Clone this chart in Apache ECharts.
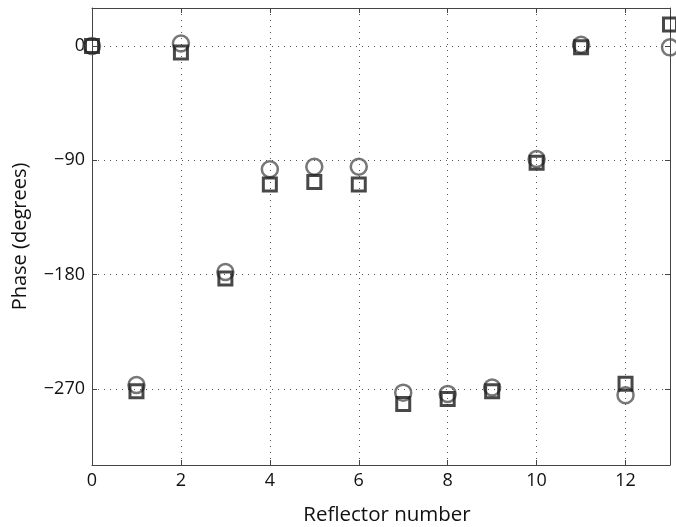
<!DOCTYPE html>
<html>
<head>
<meta charset="utf-8">
<script src="https://cdn.jsdelivr.net/npm/echarts@6/dist/echarts.min.js"></script>
<style>
html, body { margin: 0; padding: 0; background: #fff; }
#chart { width: 676px; height: 527px; }
</style>
</head>
<body>
<div id="chart"></div>
<script>
// 反射器编号
const reflectors = [0, 1, 2, 3, 4, 5, 6, 7, 8, 9, 10, 11, 12, 13]
// 圆圈 (灰)
const circlePhase = [0, -267, 2, -178, -97, -95, -95, -273, -274, -269, -89, 1, -275, -1]
// 方块 (黑)
const squarePhase = [0, -272, -5, -183, -109, -107, -109, -282, -278, -272, -92, -1, -266, 17]
// 刻度
const xTicks = [0, 2, 4, 6, 8, 10, 12]
const yTicks = [-270, -180, -90, 0]

const font = 'Open Sans'
const chart = echarts.init(document.getElementById('chart'))

const toPairs = arr => reflectors.map((x, i) => [x, arr[i]])

const gridLine = { show: true, lineStyle: { color: '#555', type: [1, 5], width: 1 } }
const borderLine = { show: true, onZero: false, lineStyle: { color: '#444', width: 1 } }
const tick = vals => ({ show: true, inside: true, length: 5, customValues: vals, lineStyle: { color: '#444' } })

chart.setOption({
    animation: false,
    grid: { left: 92, top: 8, right: 6, bottom: 62, outerBoundsMode: 'none' },
    xAxis: [{
        type: 'value', min: 0, max: 13,
        name: 'Reflector number', nameLocation: 'middle', nameGap: 40,
        nameTextStyle: { fontFamily: font, fontSize: 20.5, color: '#111', padding: [0, 0, 0, 12] },
        axisLine: borderLine,
        axisTick: tick(xTicks),
        axisLabel: { fontFamily: font, fontSize: 18, color: '#111', margin: 7, customValues: xTicks },
        splitLine: gridLine
    }, {
        type: 'value', min: 0, max: 13, position: 'top',
        axisLine: borderLine,
        axisTick: tick(xTicks),
        axisLabel: { show: false, customValues: xTicks },
        splitLine: { show: false }
    }],
    yAxis: [{
        type: 'value', min: -330, max: 30,
        name: 'Phase (degrees)', nameLocation: 'middle', nameGap: 62,
        nameTextStyle: { fontFamily: font, fontSize: 20, color: '#111' },
        axisLine: borderLine,
        axisTick: tick(yTicks),
        axisLabel: {
            fontFamily: font, fontSize: 18, color: '#111', margin: 7, customValues: yTicks,
            formatter: v => (v < 0 ? '\u2212' + Math.abs(v) : String(v))
        },
        splitLine: gridLine
    }, {
        type: 'value', min: -330, max: 30, position: 'right',
        axisLine: borderLine,
        axisTick: tick(yTicks),
        axisLabel: { show: false, customValues: yTicks },
        splitLine: { show: false }
    }],
    series: [{
        name: 'circle', type: 'scatter', symbol: 'circle', symbolSize: 16,
        data: toPairs(circlePhase),
        itemStyle: { color: 'rgba(0,0,0,0)', borderColor: '#555', borderWidth: 2.5 }
    }, {
        name: 'square', type: 'scatter', symbol: 'rect', symbolSize: 13,
        data: toPairs(squarePhase),
        itemStyle: { color: 'rgba(0,0,0,0)', borderColor: '#1a1a1a', borderWidth: 3 }
    }]
})
</script>
</body>
</html>
